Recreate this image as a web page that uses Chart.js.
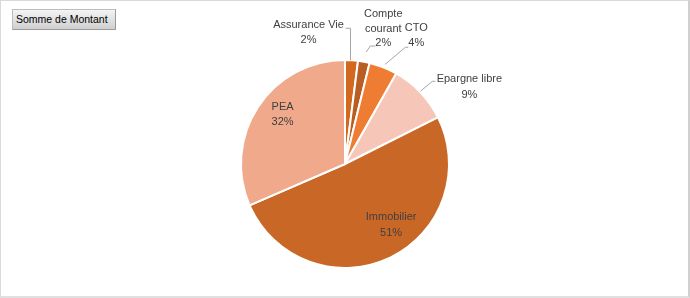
<!DOCTYPE html>
<html>
<head>
<meta charset="utf-8">
<script src="https://cdn.jsdelivr.net/npm/chart.js@4"></script>
<style>
  html, body { margin: 0; padding: 0; background: #ffffff; }
  #wrap { position: relative; width: 690px; height: 298px; overflow: hidden; }
  #frame { position: absolute; left: 0; top: 0; width: 690px; height: 298px; box-sizing: border-box;
           border: 1px solid #d9d9d9; border-right: 2px solid #d0d0d0; border-bottom: 2px solid #e0e0e0; pointer-events: none; }
  #btn { position: absolute; left: 12px; top: 9px; width: 104px; height: 21px; box-sizing: border-box;
         background: linear-gradient(#f4f4f4, #cfcfcf); border: 1px solid #bdbdbd; border-right-color: #9a9a9a; border-bottom-color: #9a9a9a;
         font: 10.5px "Liberation Sans", Arial, sans-serif; color: #000; line-height: 19px; padding-left: 3px; white-space: nowrap; }
  canvas { position: absolute; left: 0; top: 0; }
</style>
</head>
<body>
<div id="wrap">
  <canvas id="c" width="690" height="298"></canvas>
  <div id="btn">Somme de Montant</div>
  <div id="frame"></div>
</div>
<script>
const categories = ["Assurance Vie", "Compte courant", "CTO", "Epargne libre", "Immobilier", "PEA"];
const labelLines = [["Assurance Vie"], ["Compte", "courant"], ["CTO"], ["Epargne libre"], ["Immobilier"], ["PEA"]];
const values = [2.0, 1.8, 4.4, 9.4, 50.9, 31.5];
const colors = ["#D2691F", "#B85E22", "#EE7D33", "#F6C7B8", "#C96727", "#F0A98A"];

// label layout styles (offsets relative to the arc geometry)
const labelStyle = [
  { mode: "out", start: [-1, 0], elbow: [-1, -32], h: -5, text: [-42, -3], lh: 14.5 },
  { mode: "out", start: [2.4, -9.7], elbow: [6.4, -15.7], h: 5, text: [13, -32], lh: 14.5 },
  { mode: "out", start: [2, -3], elbow: [22, -20], h: 3, text: [11, -19], lh: 14.5 },
  { mode: "out", start: [0, -1], elbow: [12, -11], h: 3, text: [37, -2], lh: 16 },
  { mode: "in", frac: 0.73, text: [14, -8], lh: 15.5 },
  { mode: "in", frac: 0.73, text: [1, -7.5], lh: 15 }
];

const total = values.reduce((a, b) => a + b, 0);
const pctText = values.map(v => Math.round(v / total * 100) + "%");

const labelPlugin = {
  id: "pieLabels",
  afterDatasetsDraw(chart) {
    const ctx = chart.ctx;
    const meta = chart.getDatasetMeta(0);
    ctx.save();
    ctx.font = '11px "Liberation Sans", Arial, sans-serif';
    ctx.fillStyle = "#404040";
    ctx.textBaseline = "middle";
    ctx.textAlign = "center";
    meta.data.forEach((arc, i) => {
      const st = labelStyle[i];
      const p = arc.getProps(["x", "y", "startAngle", "endAngle", "outerRadius"], true);
      const mid = (p.startAngle + p.endAngle) / 2;
      const lines = labelLines[i].concat([pctText[i]]);
      if (st.mode === "in") {
        const r = p.outerRadius * st.frac;
        const cx = p.x + Math.cos(mid) * r + st.text[0];
        const cy = p.y + Math.sin(mid) * r + st.text[1];
        const top = cy - (lines.length - 1) * st.lh / 2;
        lines.forEach((t, k) => ctx.fillText(t, cx, top + k * st.lh));
      } else {
        const ex = p.x + Math.cos(mid) * p.outerRadius;
        const ey = p.y + Math.sin(mid) * p.outerRadius;
        const sx = ex + st.start[0], sy = ey + st.start[1];
        const bx = ex + st.elbow[0], by = ey + st.elbow[1];
        ctx.strokeStyle = "#a6a6a6";
        ctx.lineWidth = 1;
        ctx.beginPath();
        ctx.moveTo(sx, sy);
        ctx.lineTo(bx, by);
        ctx.lineTo(bx + st.h, by);
        ctx.stroke();
        const tx = bx + st.text[0], ty = by + st.text[1];
        lines.forEach((t, k) => ctx.fillText(t, tx, ty + k * st.lh));
      }
    });
    ctx.restore();
  }
};

new Chart(document.getElementById("c"), {
  type: "pie",
  data: {
    labels: categories,
    datasets: [{
      data: values,
      backgroundColor: colors,
      borderColor: "#ffffff",
      borderWidth: 2
    }]
  },
  options: {
    responsive: false,
    animation: false,
    radius: 104,
    layout: { padding: { top: 30, bottom: 0, left: 0, right: 0 } },
    plugins: { legend: { display: false }, tooltip: { enabled: false } }
  },
  plugins: [labelPlugin]
});
</script>
</body>
</html>
